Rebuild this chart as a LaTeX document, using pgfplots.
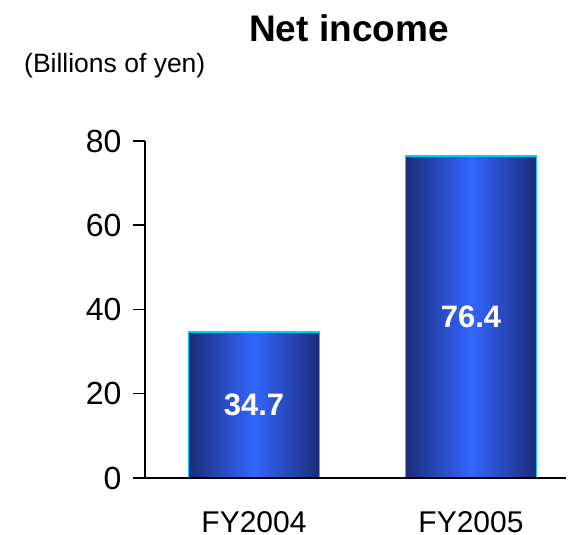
\documentclass[border=0pt]{standalone}
\usepackage{fontspec}
\setmainfont{Liberation Sans}
\usepackage{pgfplots}
\pgfplotsset{compat=1.18}
\definecolor{bardark}{RGB}{27,44,120}
\definecolor{barlight}{RGB}{51,102,255}
\definecolor{barline}{RGB}{0,204,255}
\begin{document}
\begin{tikzpicture}
\useasboundingbox (0pt,0pt) rectangle (568pt,535pt);
\node[anchor=base, font=\fontsize{37}{40}\selectfont\bfseries, inner sep=0pt] at (349pt,493pt) {Net income};
\node[anchor=base west, font=\fontsize{26.5}{30}\selectfont, inner sep=0pt] at (24pt,462pt) {(Billions of yen)};
\begin{axis}[
  at={(145pt,57pt)}, anchor=south west,
  scale only axis, width=421pt, height=337pt,
  xmin=-0.5023, xmax=1.438, ymin=0, ymax=80,
  axis x line=bottom, axis y line=left,
  axis line style={-, line width=1.5pt, black},
  axis on top=true,
  xtick={0,1}, xticklabels={FY2004,FY2005},
  major x tick style={draw=none},
  x tick label style={font=\fontsize{30}{34}\selectfont, inner sep=0pt, yshift=-21pt},
  ytick={0,20,40,60,80},
  tick align=outside,
  major tick length=12pt,
  major y tick style={line width=1.5pt, black},
  y tick label style={font=\fontsize{32}{36}\selectfont, xshift=-8pt},
  /pgf/number format/assume math mode=true,
  clip=false,
  barstyle/.style={ybar, bar width=0.604, bar shift=0pt, draw=barline, line width=1.8pt,
    left color=bardark, right color=bardark, middle color=barlight},
]
\addplot[barstyle] coordinates {(0,34.7)};
\addplot[barstyle] coordinates {(1,76.4)};
\addplot[draw=none, mark=none, nodes near coords, point meta=explicit symbolic,
  every node near coord/.append style={anchor=center, text=white,
    font=\fontsize{31}{34}\selectfont\bfseries}]
  coordinates {(0,17.35) [34.7] (1,38.2) [76.4]};
\end{axis}
\end{tikzpicture}
\end{document}
